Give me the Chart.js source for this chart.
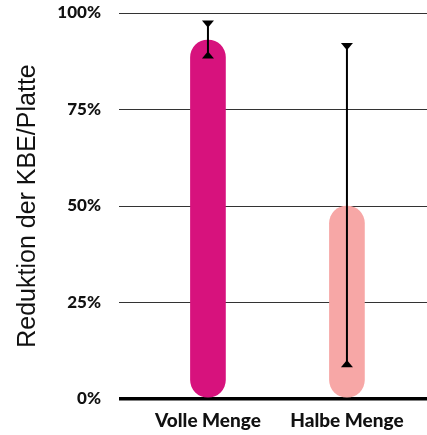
<!DOCTYPE html>
<html>
<head>
<meta charset="utf-8">
<script src="https://cdn.jsdelivr.net/npm/chart.js@4"></script>
<style>
  html, body { margin: 0; padding: 0; background: #fff; }
  #wrap { width: 427px; height: 435px; }
</style>
</head>
<body>
<div id="wrap"><canvas id="c" width="427" height="435"></canvas></div>
<script>
const categories = ['Volle Menge', 'Halbe Menge'];
const values = [93, 50];
const errLow = [88.5, 8.5];
const errHigh = [97.8, 92];
const yTicks = [0, 25, 50, 75, 100];
const barColors = ['#D7127D', '#F7A7A6'];

const errorBars = {
  id: 'errorBars',
  afterDatasetsDraw(chart) {
    const ctx = chart.ctx;
    const y = chart.scales.y;
    const meta = chart.getDatasetMeta(0);
    ctx.save();
    ctx.strokeStyle = '#000';
    ctx.fillStyle = '#000';
    meta.data.forEach((bar, i) => {
      const x = bar.x;
      const yt = y.getPixelForValue(errHigh[i]);
      const yb = y.getPixelForValue(errLow[i]);
      ctx.lineWidth = 2;
      ctx.beginPath();
      ctx.moveTo(x, yt);
      ctx.lineTo(x, yb);
      ctx.stroke();
      const hw = 6, th = 5;
      ctx.beginPath();
      ctx.moveTo(x - hw, yt - 1);
      ctx.lineTo(x + hw, yt - 1);
      ctx.lineTo(x + 1, yt + th);
      ctx.lineTo(x - 1, yt + th);
      ctx.closePath();
      ctx.fill();
      ctx.beginPath();
      ctx.moveTo(x - hw, yb + 1);
      ctx.lineTo(x + hw, yb + 1);
      ctx.lineTo(x + 1, yb - th);
      ctx.lineTo(x - 1, yb - th);
      ctx.closePath();
      ctx.fill();
    });
    ctx.restore();
  }
};

new Chart(document.getElementById('c'), {
  type: 'bar',
  data: {
    datasets: [{
      data: values.map((v, i) => ({ x: i, y: v })),
      backgroundColor: barColors,
      borderWidth: 0,
      borderSkipped: false,
      borderRadius: 18,
      barThickness: 35
    }]
  },
  options: {
    responsive: false,
    animation: false,
    devicePixelRatio: 1,
    layout: { padding: { top: 13, right: 0, bottom: 0, left: 0 } },
    plugins: { legend: { display: false }, tooltip: { enabled: false } },
    scales: {
      x: {
        type: 'linear',
        offset: false,
        min: -0.64,
        max: 1.576,
        afterBuildTicks: (s) => { s.ticks = categories.map((c, i) => ({ value: i })); },
        afterFit: (s) => { s.height = 36; },
        ticks: {
          callback: (v) => categories[v],
          color: '#111',
          font: { family: 'Lato', weight: 900, size: 19 },
          padding: 10,
          maxRotation: 0,
          autoSkip: false
        },
        grid: { display: false, drawTicks: false },
        border: { display: false }
      },
      y: {
        min: 0,
        max: 100,
        afterBuildTicks: (s) => { s.ticks = yTicks.map(v => ({ value: v })); },
        afterFit: (s) => { s.width = 119; },
        ticks: {
          callback: (v) => v + '%',
          color: '#111',
          font: { family: 'Lato', weight: 900, size: 17 },
          padding: 0
        },
        grid: {
          color: (c) => c.tick && c.tick.value === 0 ? '#000' : '#333',
          lineWidth: (c) => c.tick && c.tick.value === 0 ? 3.5 : 1,
          drawTicks: true,
          tickLength: 18,
          tickColor: 'rgba(0,0,0,0)'
        },
        border: { display: false },
        title: {
          display: true,
          text: 'Reduktion der KBE/Platte',
          color: '#111',
          font: { family: 'Liberation Sans', size: 25, weight: 'normal' },
          padding: { top: 13, bottom: 0 }
        }
      }
    }
  },
  plugins: [errorBars]
});
</script>
</body>
</html>
